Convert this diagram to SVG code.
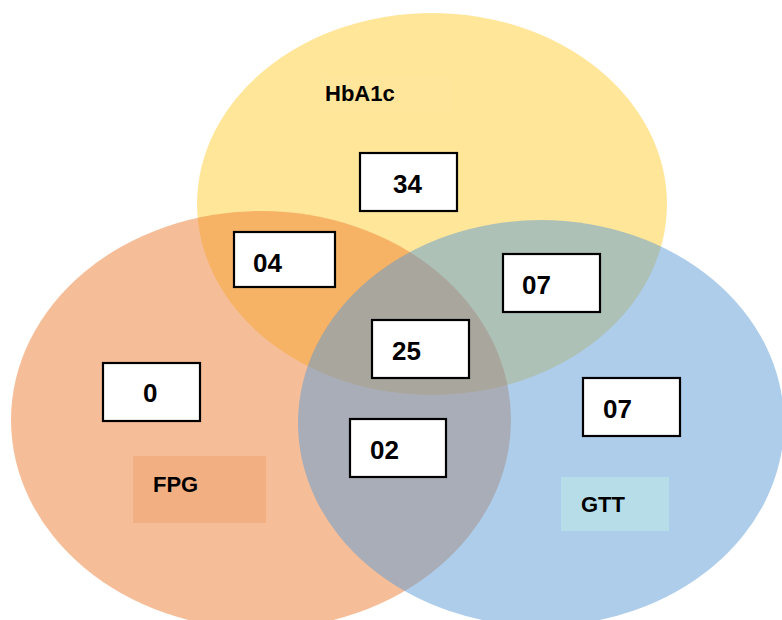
<svg xmlns="http://www.w3.org/2000/svg" width="782" height="620" viewBox="0 0 782 620">
<style>
.box{fill:#fff;stroke:#000;stroke-width:2.2}
.num{font-family:"Liberation Sans",Arial,sans-serif;font-weight:bold;font-size:26px;fill:#000}
.lbl{font-family:"Liberation Sans",Arial,sans-serif;font-weight:bold;font-size:22px;fill:#000}
</style>
<rect width="782" height="620" fill="#fff"/>
<g id="sets">
<g id="hba1c-set"><ellipse cx="432" cy="204" rx="235" ry="191" fill="#FFC000" fill-opacity="0.4"/></g>
<g id="fpg-set"><ellipse cx="261" cy="420" rx="250" ry="209" fill="#ED7D31" fill-opacity="0.5"/></g>
<g id="gtt-set"><ellipse cx="541" cy="423" rx="243" ry="203" fill="#5B9BD5" fill-opacity="0.5"/></g>
</g>
<g id="labels">
<g id="label-hba1c"><rect x="321" y="77" width="131" height="34" fill="#FFE69B" opacity="0.4"/><text class="lbl" x="325" y="101">HbA1c</text></g>
<g id="label-fpg"><rect x="133" y="456" width="133" height="67" fill="#F2AF82"/><text class="lbl" x="153" y="492">FPG</text></g>
<g id="label-gtt"><rect x="561" y="477" width="108" height="54" fill="#B7DEE8"/><text class="lbl" x="581" y="512">GTT</text></g>
</g>
<g id="counts">
<g id="n34"><rect class="box" x="360" y="153" width="97" height="58"/><text class="num" x="393" y="193">34</text></g>
<g id="n04"><rect class="box" x="234" y="232" width="101" height="55"/><text class="num" x="253" y="272">04</text></g>
<g id="n07a"><rect class="box" x="503" y="254" width="97" height="58"/><text class="num" x="522" y="294">07</text></g>
<g id="n25"><rect class="box" x="372" y="320" width="97" height="58"/><text class="num" x="392" y="360">25</text></g>
<g id="n0"><rect class="box" x="103" y="363" width="97" height="58"/><text class="num" x="143" y="402">0</text></g>
<g id="n07b"><rect class="box" x="583" y="378" width="97" height="58"/><text class="num" x="603" y="418">07</text></g>
<g id="n02"><rect class="box" x="350" y="419" width="96" height="58"/><text class="num" x="370" y="459">02</text></g>
</g>
<g id="connectors"></g>
</svg>
